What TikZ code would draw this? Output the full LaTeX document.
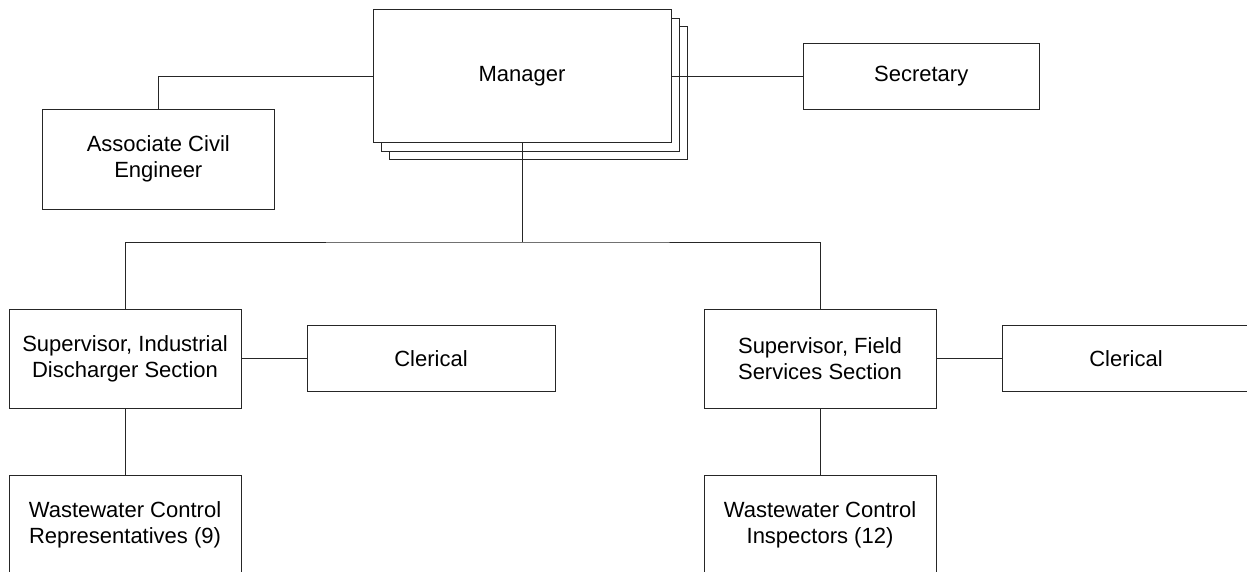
\documentclass[tikz,border=0pt]{standalone}
\usepackage{fontspec}
\setmainfont{Liberation Sans}
\begin{document}
\begin{tikzpicture}[x=1pt,y=-1pt,
  box/.style={draw=black!85, line width=0.9pt, fill=white, rectangle, inner sep=0pt,
    align=center, font=\fontsize{22}{26}\selectfont},
  link/.style={draw=black!85, line width=0.9pt}]
  \clip (0,0) rectangle (1247,572);
  \fill[white] (0,0) rectangle (1247,572);

  % manager with stacked sheets behind it
  \node[box, minimum width=298, minimum height=132.7] (mgrC) at (538.8,93) {};
  \node[box, minimum width=298, minimum height=132.7] (mgrB) at (530.4,84.7) {};
  \node[box, minimum width=298, minimum height=132.7] (mgr) at (522,76.3) {Manager};

  \node[box, minimum width=232, minimum height=99.7] (ace) at (158.3,159.2) {Associate Civil\\Engineer};
  \node[box, minimum width=235.7, minimum height=66] (sec) at (921.2,76.3) {Secretary};

  \node[box, minimum width=232, minimum height=99] (sup1) at (125,358.5) {Supervisor, Industrial\\Discharger Section};
  \node[box, minimum width=248, minimum height=66] (cl1) at (431,358.5) {Clerical};
  \node[box, minimum width=232, minimum height=99] (sup2) at (820,358.5) {Supervisor, Field\\Services Section};
  \node[box, minimum width=248, minimum height=66] (cl2) at (1126,358.5) {Clerical};

  \node[box, minimum width=232, minimum height=100] (ww1) at (125,525) {Wastewater Control\\Representatives (9)};
  \node[box, minimum width=232, minimum height=100] (ww2) at (820,525) {Wastewater Control\\Inspectors (12)};

  \coordinate (bus) at (522,242);

  % connectors
  \draw[link] (mgr.west) -| (ace.north);
  \draw[link] (mgr.east) -- (sec.west);
  \draw[link] (mgr.south) -- (bus);
  \draw[link] (sup1.north) |- (bus) -| (sup2.north);
  \draw[link] (sup1.east) -- (cl1.west);
  \draw[link] (sup2.east) -- (cl2.west);
  \draw[link] (sup1.south) -- (ww1.north);
  \draw[link] (sup2.south) -- (ww2.north);
\end{tikzpicture}
\end{document}
